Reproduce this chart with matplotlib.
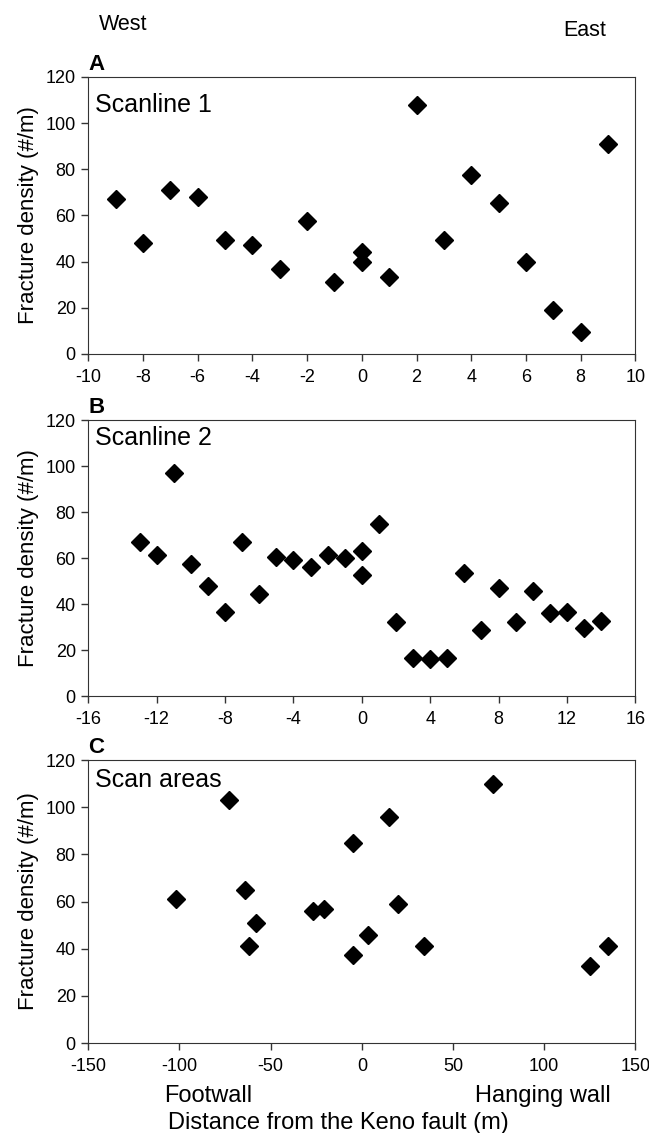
import numpy as np
import matplotlib
matplotlib.use('Agg')
import matplotlib.pyplot as plt

plt.rcParams['font.family'] = ['Liberation Sans', 'DejaVu Sans']
plt.rcParams['axes.unicode_minus'] = False

# Scanline 1
x_a = [-9, -8, -7, -6, -5, -4, -3, -2, -1, 0, 0, 1, 2, 3, 4, 5, 6, 7, 8, 9]
y_a = [67, 48, 71, 68, 49.5, 47, 37, 57.5, 31, 44, 40, 33.5, 108, 49.5, 77.5, 65.5, 40, 19, 9.5, 91]

# Scanline 2
x_b = [-13, -12, -11, -10, -9, -8, -7, -6, -5, -4, -3, -2, -1, 0, 0, 1, 2, 3, 4, 5,
       6, 7, 8, 9, 10, 11, 12, 13, 14]
y_b = [67, 61.5, 97, 57.5, 48, 36.5, 67, 44.5, 60.5, 59, 56, 61.5, 60, 63, 52.5, 75, 32, 16.5, 16, 16.5,
       53.5, 28.5, 47, 32, 45.5, 36, 36.5, 29.5, 32.5]

# Scan areas
x_c = [-102, -73, -64, -62, -58, -27, -21, -5, -5, 3.5, 15, 20, 34, 72, 125, 135]
y_c = [61, 103, 65, 41, 51, 56, 57, 85, 37.5, 46, 96, 59, 41, 110, 32.5, 41]

fig = plt.figure(figsize=(6.49, 11.33), dpi=100)

panels = [
    (x_a, y_a, (-10, 10), np.arange(-10, 11, 2), 'A', 'Scanline 1', [0.136, 0.6876, 0.843, 0.2445], 0.90),
    (x_b, y_b, (-16, 16), np.arange(-16, 17, 4), 'B', 'Scanline 2', [0.136, 0.3857, 0.843, 0.2436], 0.935),
    (x_c, y_c, (-150, 150), np.arange(-150, 151, 50), 'C', 'Scan areas', [0.136, 0.0794, 0.843, 0.2498], 0.93),
]

for xs, ys, xlim, xticks, letter, name, pos, name_y in panels:
    ax = fig.add_axes(pos)
    ax.plot(xs, ys, 'D', color='black', markersize=9, linestyle='none', clip_on=False)
    ax.set_xlim(*xlim)
    ax.set_ylim(0, 120)
    ax.set_xticks(xticks)
    ax.set_yticks(np.arange(0, 121, 20))
    ax.tick_params(direction='out', length=5, width=1, labelsize=13, color='#333333')
    ax.tick_params(axis='x', pad=6)
    ax.tick_params(axis='y', pad=4)
    for s in ax.spines.values():
        s.set_color('#333333')
    ax.set_ylabel('Fracture density (#/m)', fontsize=16, labelpad=5)
    ax.text(0.0, 1.008, letter, transform=ax.transAxes, fontsize=16, fontweight='bold',
            va='bottom', ha='left')
    ax.text(0.012, name_y, name, transform=ax.transAxes, fontsize=18, va='center', ha='left')

fig.text(123 / 649, 1 - 25 / 1133, 'West', fontsize=15.5, ha='center', va='center')
fig.text(585 / 649, 1 - 30 / 1133, 'East', fontsize=15.5, ha='center', va='center')
fig.text(208 / 649, 1 - 1096 / 1133, 'Footwall', fontsize=17, ha='center', va='center')
fig.text(543 / 649, 1 - 1096 / 1133, 'Hanging wall', fontsize=17, ha='center', va='center')
fig.text(338 / 649, 1 - 1123 / 1133, 'Distance from the Keno fault (m)', fontsize=17,
         ha='center', va='center')

fig.savefig('out.png', dpi=100)
